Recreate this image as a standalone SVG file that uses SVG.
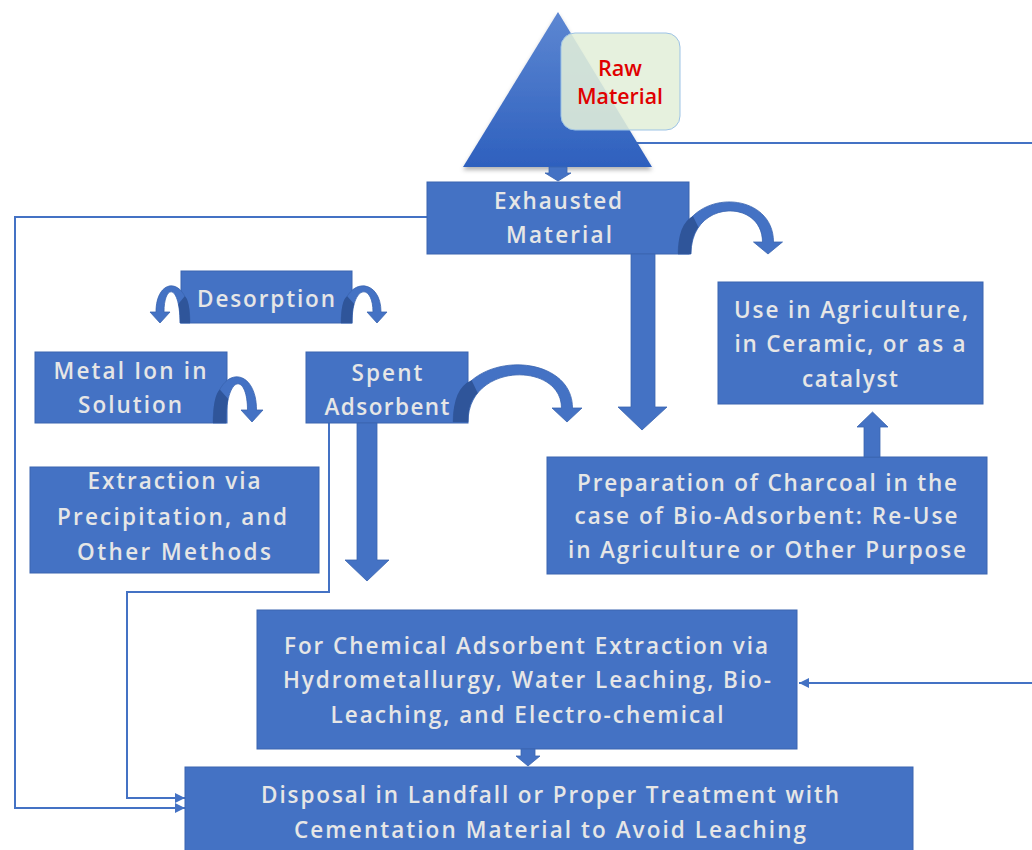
<svg xmlns="http://www.w3.org/2000/svg" width="1032" height="850" viewBox="0 0 1032 850">
<defs>
<style>
.box{fill:#4472C4;stroke:#3a64b0;stroke-width:1}
.t{font-family:"Open Sans","DejaVu Sans",sans-serif;font-size:22.5px;font-weight:600;fill:#e6e6e6;text-anchor:middle}
.rt{font-family:"Open Sans","DejaVu Sans",sans-serif;font-size:22px;fill:#e00000;text-anchor:middle;font-weight:600}
.ln{fill:none;stroke:#4472C4;stroke-width:2}
.blk{fill:#4472C4;stroke:#3a64b0;stroke-width:0.8}
.drk{fill:#2f559a}
</style>
<linearGradient id="tg" x1="0" y1="0" x2="0" y2="1">
<stop offset="0" stop-color="#5d87d2"/>
<stop offset="1" stop-color="#2e60be"/>
</linearGradient>
<filter id="sh" x="-10%" y="-10%" width="120%" height="130%">
<feDropShadow dx="0" dy="3" stdDeviation="2" flood-color="#000" flood-opacity="0.3"/>
</filter>
<marker id="ah" viewBox="0 0 10 10" refX="10" refY="5" markerWidth="10" markerHeight="10" markerUnits="userSpaceOnUse" orient="auto">
<path d="M0,0 L10,5 L0,10 z" fill="#4472C4"/>
</marker>
</defs>
<rect width="1032" height="850" fill="#ffffff"/>

<g id="connectors">
<path class="ln" d="M621,158 V143 H1034 V683 H799" marker-end="url(#ah)"/>
<path class="ln" d="M427,217 H15 V808 H185" marker-end="url(#ah)"/>
<path class="ln" d="M329,423 V592 H127 V798 H185" marker-end="url(#ah)"/>
</g>

<g id="raw-material">
<polygon points="558,12 463,167 652,167" fill="url(#tg)" filter="url(#sh)"/>
<rect x="561" y="33" width="119" height="97" rx="14" fill="#e2efda" fill-opacity="0.88" stroke="#9dc3e6" stroke-width="1"/>
<text class="rt" x="620" y="76" textLength="44" lengthAdjust="spacingAndGlyphs">Raw</text>
<text class="rt" x="620" y="104" textLength="86" lengthAdjust="spacingAndGlyphs">Material</text>
</g>

<g id="exhausted">
<rect class="box" x="427" y="182" width="262" height="72"/>
<text class="t" x="558" y="209" textLength="128">Exhausted</text>
<text class="t" x="559" y="243" textLength="106">Material</text>
</g>

<g id="desorption">
<rect class="box" x="181" y="271" width="171" height="52"/>
<text class="t" x="266" y="307" textLength="138">Desorption</text>
</g>

<g id="metal-ion">
<rect class="box" x="35" y="352" width="192" height="71"/>
<text class="t" x="130" y="379" textLength="153">Metal Ion in</text>
<text class="t" x="130" y="413" textLength="104">Solution</text>
</g>

<g id="spent-adsorbent">
<rect class="box" x="306" y="352" width="162" height="71"/>
<text class="t" x="387" y="381" textLength="71">Spent</text>
<text class="t" x="387" y="415" textLength="125">Adsorbent</text>
</g>

<g id="extraction">
<rect class="box" x="30" y="467" width="289" height="106"/>
<text class="t" x="174" y="489" textLength="173">Extraction via</text>
<text class="t" x="172" y="525" textLength="230">Precipitation, and</text>
<text class="t" x="174" y="560" textLength="194">Other Methods</text>
</g>

<g id="use-agriculture">
<rect class="box" x="718" y="282" width="265" height="122"/>
<text class="t" x="851" y="318" textLength="234">Use in Agriculture,</text>
<text class="t" x="850" y="352" textLength="231">in Ceramic, or as a</text>
<text class="t" x="850" y="387" textLength="96">catalyst</text>
</g>

<g id="preparation">
<rect class="box" x="547" y="457" width="440" height="117"/>
<text class="t" x="767" y="491" textLength="380">Preparation of Charcoal in the</text>
<text class="t" x="766" y="524" textLength="383">case of Bio-Adsorbent: Re-Use</text>
<text class="t" x="767" y="558" textLength="398">in Agriculture or Other Purpose</text>
</g>

<g id="chemical-extraction">
<rect class="box" x="257" y="610" width="540" height="139"/>
<text class="t" x="526" y="654" textLength="484">For Chemical Adsorbent Extraction via</text>
<text class="t" x="527" y="688" textLength="488">Hydrometallurgy, Water Leaching, Bio-</text>
<text class="t" x="527" y="723" textLength="393">Leaching, and Electro-chemical</text>
</g>

<g id="disposal">
<rect class="box" x="185" y="767" width="728" height="95"/>
<text class="t" x="550" y="803" textLength="578">Disposal in Landfall or Proper Treatment with</text>
<text class="t" x="550" y="838" textLength="512">Cementation Material to Avoid Leaching</text>
</g>

<g id="arrows">
<path class="blk" d="M549,167 H567 V173 H571 L558,181 L545,173 H549 Z"/>
<path class="blk" d="M631,254 H655 V407 H667 L642,430 L618,407 H631 Z"/>
<path class="blk" d="M357,423 H377 V560 H389 L367,581 L345,560 H357 Z"/>
<path class="blk" d="M521,749 H535 V756 H540 L528,766 L516,756 H521 Z"/>
<path class="blk" d="M864,457 V427 H857 L872.5,412 L888,427 H880 V457 Z"/>
<path class="blk" d="M678,254 C678,186.7 773.5,186.7 773.5,242 L782.5,242 L768,254 L753.5,242 L762.5,242 C762.5,198.7 691,198.7 691,254 Z"/>
<path class="drk" d="M678,254 Q678,224 692.9,216 L698.4,227.3 Q691,236 691,254 Z"/>
<path class="blk" d="M453,422 C453,348.3 572.5,348.3 572.5,408 L582,408 L567,422 L552,408 L561.5,408 C561.5,361.7 468,361.7 468,422 Z"/>
<path class="drk" d="M453,422 Q453,388 471.6,380.3 L477.7,393 Q468,402 468,422 Z"/>
<path class="blk" d="M341,323 C341,275.5 381,275.5 381,312 L387,312 L377,323 L367,312 L373,312 C373,283.5 352,283.5 352,323 Z"/>
<path class="drk" d="M341,323 Q341,300 347.2,296.2 L354.2,304 Q352,310 352,323 Z"/>
<path class="blk" d="M190,323 C190,275.5 156,275.5 156,312 L150,312 L160,323 L170,312 L164,312 C164,283.5 180,283.5 180,323 Z"/>
<path class="drk" d="M190,323 Q190,300 184.7,296.2 L178.3,304 Q180,310 180,323 Z"/>
<path class="blk" d="M213,423 C213,363.8 256.5,363.8 256.5,410 L263,410 L252,422 L241,410 L247.5,410 C247.5,373.2 226,373.2 226,423 Z"/>
<path class="drk" d="M213,423 Q213,396 219.8,389.5 L228.2,399 Q226,408 226,423 Z"/>
</g>
</svg>
